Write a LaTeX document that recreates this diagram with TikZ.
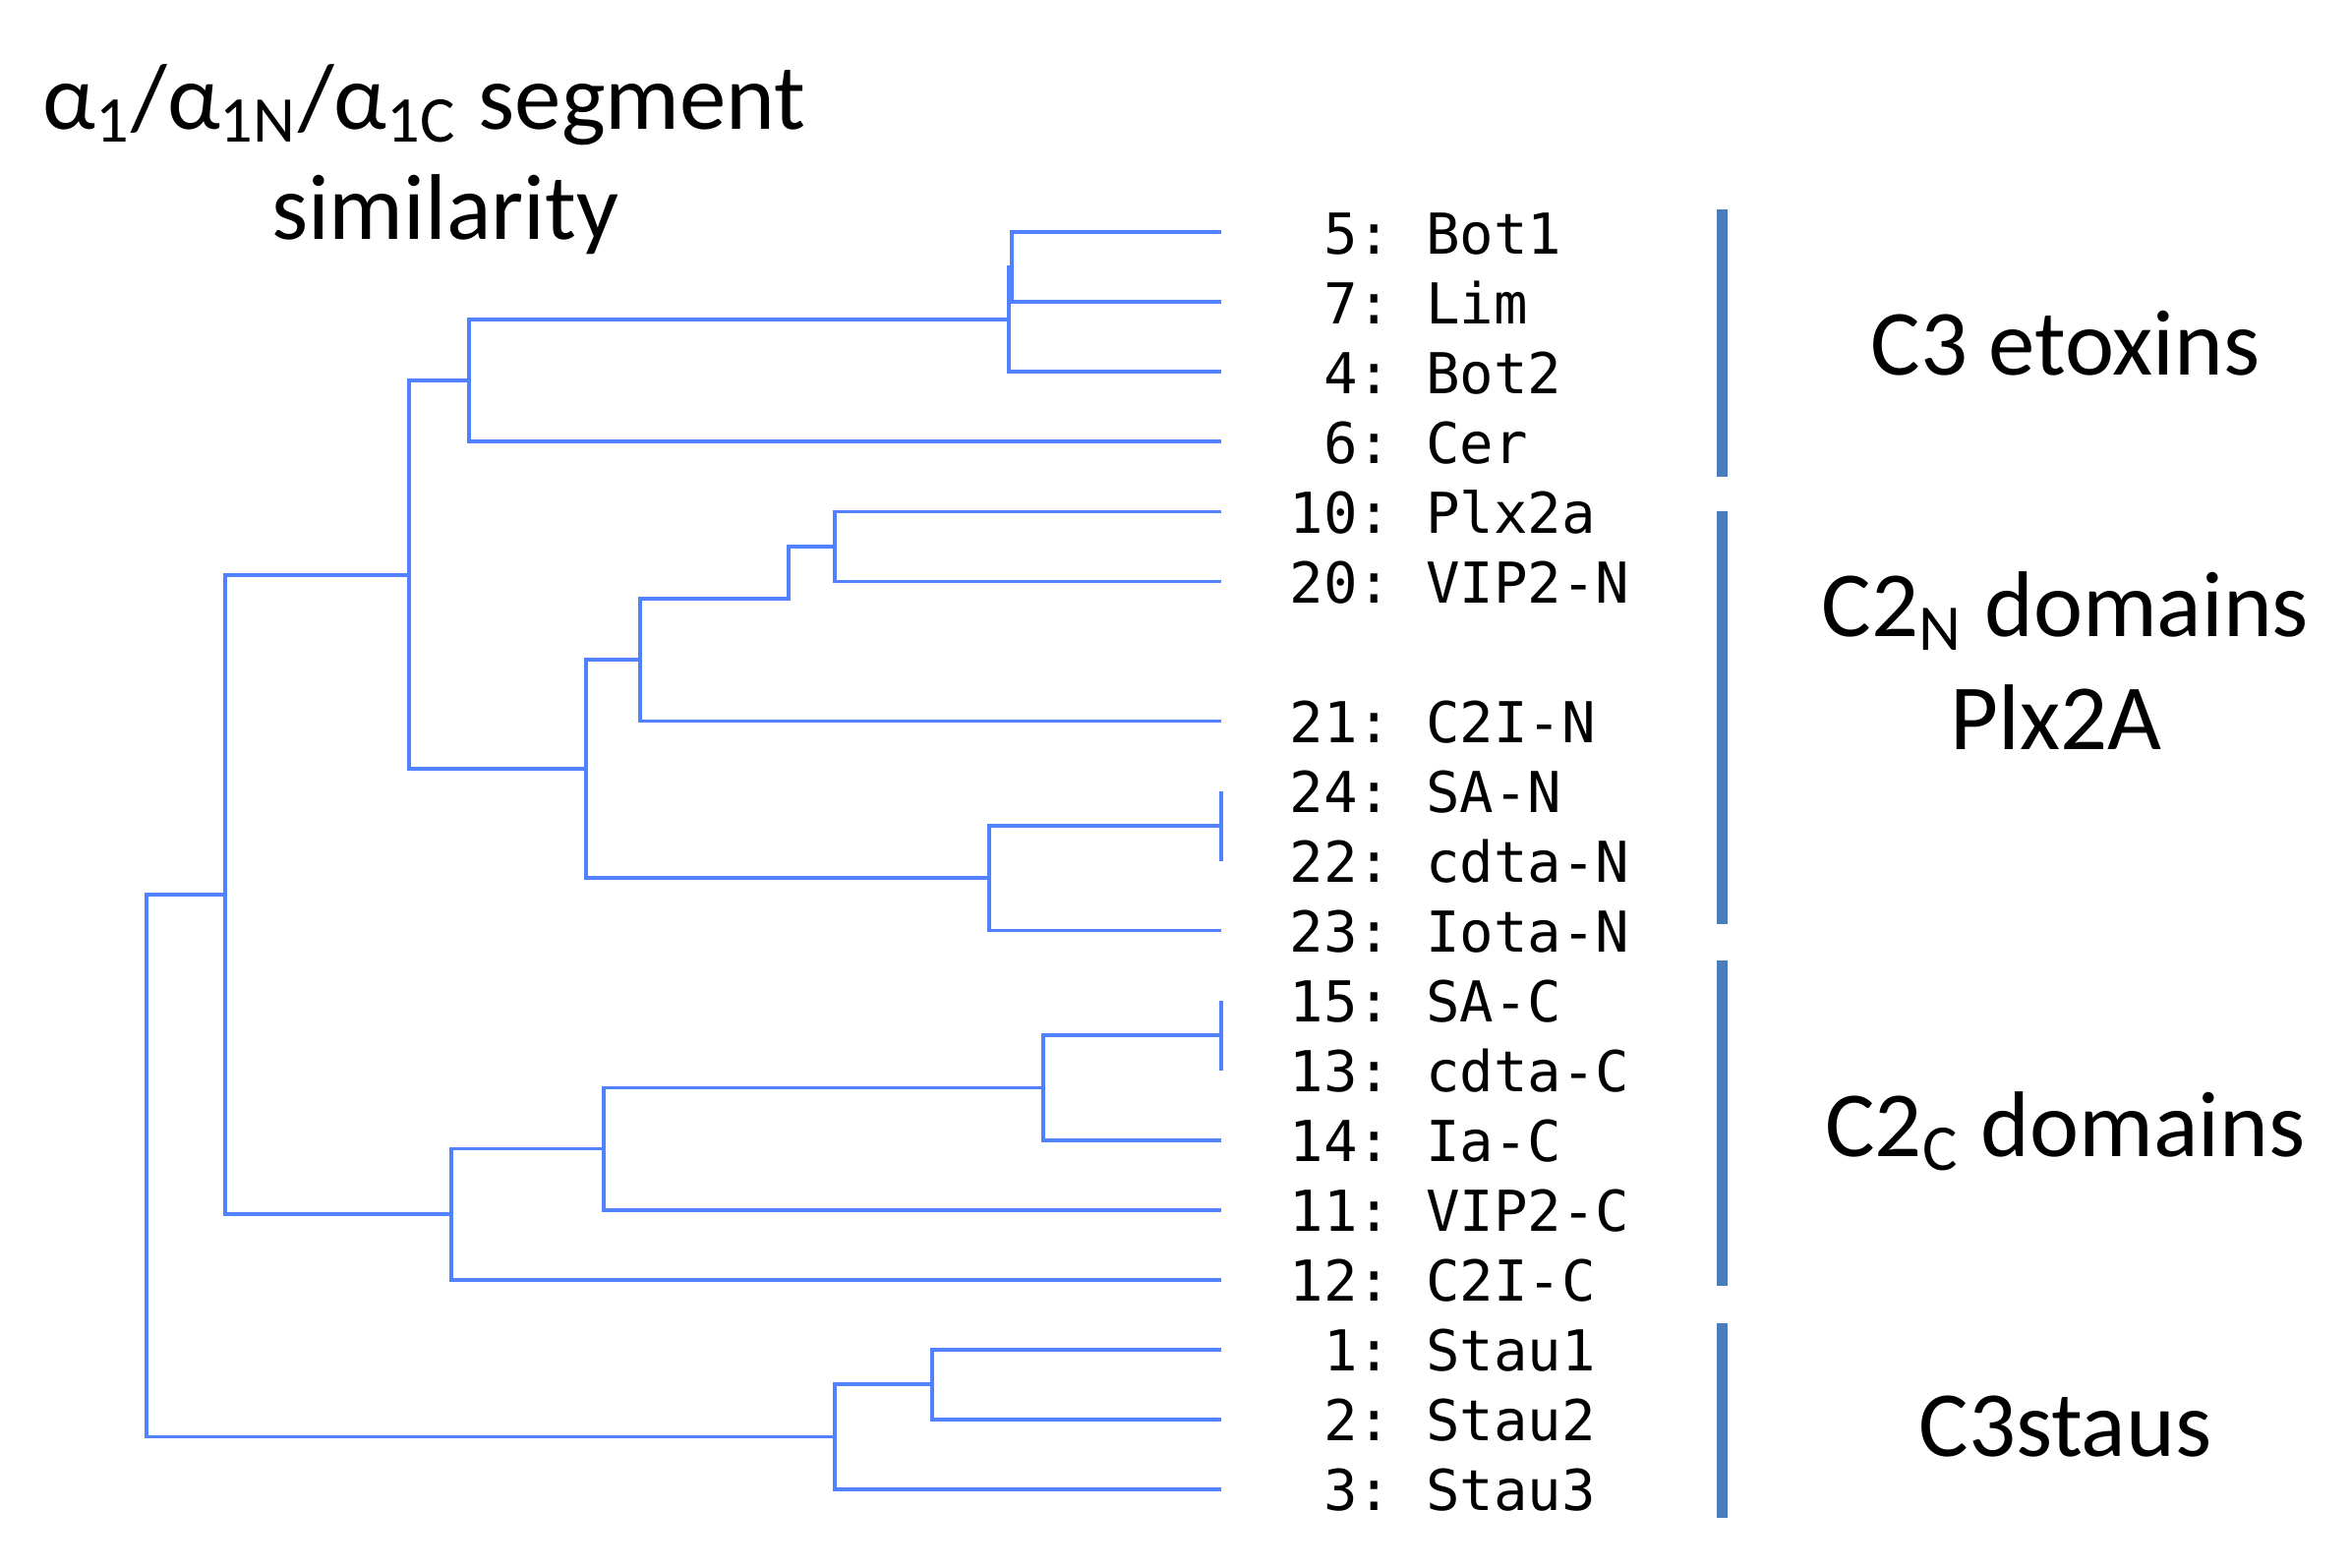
\documentclass[tikz,border=0pt]{standalone}
\usepackage{fontspec}
\setmainfont{Carlito}
\setmonofont{DejaVu Sans Mono}
\usetikzlibrary{positioning}
\definecolor{treeblue}{RGB}{80,130,255}
\definecolor{barblue}{RGB}{74,126,187}

\begin{document}
\begin{tikzpicture}[x=0.01cm, y=-0.01cm,
  branch/.style={draw=treeblue, line width=0.7pt},
  leaf/.style={anchor=base west, inner sep=0pt, font=\ttfamily\fontsize{10.7}{12}\selectfont},
  groupbar/.style={draw=barblue, line width=2pt},
  biglabel/.style={anchor=base, inner sep=0pt, font=\fontsize{17.7}{20.5}\selectfont}]
\useasboundingbox (0,0) rectangle (1568.7,1045.8);

\node[biglabel] (title1) at (283,86) {α\textsubscript{1}/α\textsubscript{1N}/α\textsubscript{1C} segment};
\node[biglabel] (title2) at (297,160) {similarity};

\foreach \k/\num/\name in {0/5/{\hphantom{0}5: Bot1}, 1/7/{\hphantom{0}7: Lim}, 2/4/{\hphantom{0}4: Bot2},
    3/6/{\hphantom{0}6: Cer}, 4/10/{10: Plx2a}, 5/20/{20: VIP2-N}, 7/21/{21: C2I-N},
    8/24/{24: SA-N}, 9/22/{22: cdta-N}, 10/23/{23: Iota-N}, 11/15/{15: SA-C},
    12/13/{13: cdta-C}, 13/14/{14: Ia-C}, 14/11/{11: VIP2-C}, 15/12/{12: C2I-C},
    16/1/{\hphantom{0}1: Stau1}, 17/2/{\hphantom{0}2: Stau2}, 18/3/{\hphantom{0}3: Stau3}} {
  \coordinate (l\num) at (815,155+46.6*\k);
  \node[leaf] (t\num) at (860,169.5+46.6*\k) {\name};
}

\coordinate (j1) at (675,178.3);
\coordinate (j2) at (673,213.25);
\coordinate (j3) at (313,254);
\coordinate (j4) at (557,364.7);
\coordinate (j5) at (526,399.65);
\coordinate (j6) at (427,440.4);
\coordinate (j7) at (815,551.1);
\coordinate (j8) at (660,586.05);
\coordinate (j9) at (391,513.2);
\coordinate (j10) at (273,383.6);
\coordinate (j11) at (815,690.9);
\coordinate (j12) at (696,725.85);
\coordinate (j13) at (403,766.6);
\coordinate (j14) at (301,810.3);
\coordinate (j15) at (150,596.95);
\coordinate (j16) at (622,923.9);
\coordinate (j17) at (557,958.85);
\coordinate (j18) at (98,777.9);

\draw[branch] (j1) |- (l5) (j1) |- (l7);
\draw[branch] (j2) |- (j1) (j2) |- (l4);
\draw[branch] (j3) |- (j2) (j3) |- (l6);
\draw[branch] (j4) |- (l10) (j4) |- (l20);
\draw[branch] (j5) |- (j4) (j5) -- ++(0,1.5);
\draw[branch] (j6) |- (j5) (j6) |- (l21);
\draw[branch] (j7) |- (l24) (j7) |- (l22);
\draw[branch] (j8) |- (j7) (j8) |- (l23);
\draw[branch] (j9) |- (j6) (j9) |- (j8);
\draw[branch] (j10) |- (j3) (j10) |- (j9);
\draw[branch] (j11) |- (l15) (j11) |- (l13);
\draw[branch] (j12) |- (j11) (j12) |- (l14);
\draw[branch] (j13) |- (j12) (j13) |- (l11);
\draw[branch] (j14) |- (j13) (j14) |- (l12);
\draw[branch] (j15) |- (j10) (j15) |- (j14);
\draw[branch] (j16) |- (l1) (j16) |- (l2);
\draw[branch] (j17) |- (j16) (j17) |- (l3);
\draw[branch] (j18) |- (j15) (j18) |- (j17);

\draw[groupbar] (1149,140) -- (1149,318);
\draw[groupbar] (1149,341) -- (1149,617);
\draw[groupbar] (1149,641) -- (1149,858);
\draw[groupbar] (1149,883) -- (1149,1013);

\node[biglabel] (etox) at (1378,250) {C3 etoxins};
\node[biglabel] (c2n) at (1378,425) {C2\textsubscript{N} domains};
\node[biglabel] (plx) at (1372,500) {Plx2A};
\node[biglabel] (c2c) at (1378,772) {C2\textsubscript{C} domains};
\node[biglabel] (staus) at (1378,972) {C3staus};
\end{tikzpicture}
\end{document}
